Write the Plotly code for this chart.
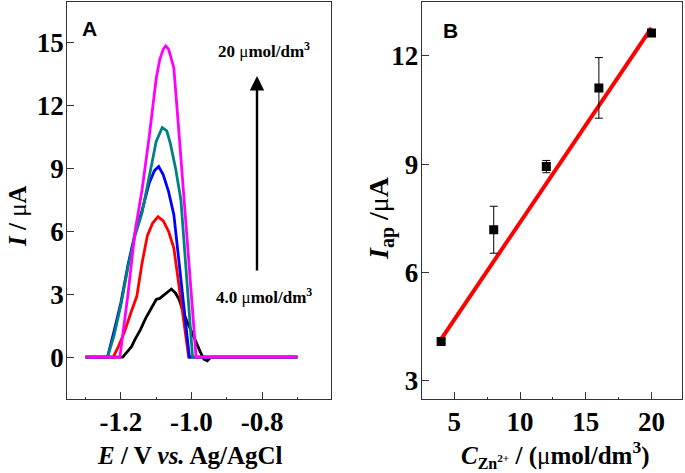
import plotly.graph_objects as go

W, H = 685, 473

# ---------------- Panel A data ----------------
E_black = [-1.30, -1.195, -1.18, -1.17, -1.16, -1.145, -1.13, -1.115, -1.10, -1.09, -1.075,
           -1.057, -1.045, -1.035, -1.02, -1.00, -0.985, -0.975, -0.965, -0.955, -0.945, -0.70]
I_black = [0.0, 0.0, 0.3, 0.5, 0.85, 1.3, 1.85, 2.3, 2.75, 2.8, 3.0,
           3.25, 3.05, 2.75, 2.0, 1.2, 0.6, 0.25, -0.1, -0.18, 0.0, 0.0]

E_red = [-1.30, -1.222, -1.21, -1.19, -1.17, -1.155, -1.14, -1.125, -1.11, -1.095,
         -1.08, -1.065, -1.05, -1.03, -1.008, -0.70]
I_red = [0.0, 0.0, 0.4, 1.2, 2.2, 2.9, 4.5, 5.8, 6.4, 6.7,
         6.5, 6.0, 5.2, 2.8, 0.0, 0.0]

E_blue = [-1.30, -1.238, -1.22, -1.20, -1.18, -1.16, -1.14, -1.12, -1.105, -1.093,
          -1.08, -1.065, -1.05, -1.035, -1.02, -1.006, -0.70]
I_blue = [0.0, 0.0, 1.2, 2.6, 4.4, 5.9, 7.0, 8.3, 8.9, 9.1,
          8.7, 7.9, 6.8, 4.5, 2.2, 0.0, 0.0]

E_teal = [-1.30, -1.238, -1.22, -1.20, -1.18, -1.16, -1.14, -1.12, -1.10, -1.083,
          -1.07, -1.06, -1.045, -1.03, -1.013, -0.997, -0.70]
I_teal = [0.0, 0.0, 1.0, 2.5, 4.3, 5.8, 6.9, 8.6, 10.3, 10.95,
          10.8, 10.2, 9.0, 7.5, 3.7, 0.0, 0.0]

E_mag = [-1.30, -1.203, -1.18, -1.16, -1.14, -1.12, -1.10, -1.09, -1.08, -1.073,
         -1.065, -1.05, -1.035, -1.02, -1.005, -0.987, -0.70]
I_mag = [0.0, 0.0, 3.0, 6.0, 8.0, 10.5, 13.3, 14.2, 14.7, 14.85,
         14.7, 13.8, 10.6, 7.5, 4.0, 0.0, 0.0]

# ---------------- Panel B data ----------------
conc = [4, 8, 12, 16, 20]
Iap = [4.08, 7.18, 8.93, 11.11, 12.63]
Iap_err = [0.05, 0.65, 0.17, 0.84, 0.05]
fit_x = [4, 20]
fit_y = [4.15, 12.77]

xA_ticks = [-1.2, -1.0, -0.8]
xA_text = ["-1.2", "-1.0", "-0.8"]
yA_ticks = [0, 3, 6, 9, 12, 15]
xB_ticks = [5, 10, 15, 20]
yB_ticks = [3, 6, 9, 12]


def px(x):
    return x / W


def py(y):
    return 1 - y / H


fig = go.Figure()
series = [(E_black, I_black, "black"), (E_red, I_red, "#ff0000"),
          (E_blue, I_blue, "#0000ff"), (E_teal, I_teal, "#008080"),
          (E_mag, I_mag, "#ff00ff")]
for ex, iy, c in series:
    fig.add_trace(go.Scatter(x=ex, y=iy, mode="lines", line=dict(color=c, width=2.8),
                             xaxis="x", yaxis="y", showlegend=False))

fig.add_trace(go.Scatter(x=fit_x, y=fit_y, mode="lines", line=dict(color="#ff0000", width=4),
                         xaxis="x2", yaxis="y2", showlegend=False))
fig.add_trace(go.Scatter(x=conc, y=Iap, mode="markers",
                         marker=dict(symbol="square", size=9, color="black"),
                         error_y=dict(type="data", array=Iap_err, color="black",
                                      thickness=1, width=4),
                         xaxis="x2", yaxis="y2", showlegend=False))

tickfont = dict(family="Liberation Serif", size=27, color="black", weight="bold")
axcommon = dict(showgrid=False, zeroline=False, showline=True, linecolor="#333333",
                linewidth=1.2, mirror=True, ticks="inside", ticklen=7, tickwidth=1,
                tickcolor="#333333", tickfont=tickfont, automargin=False)

fig.update_layout(
    width=W, height=H,
    margin=dict(l=0, r=0, t=0, b=0, autoexpand=False),
    paper_bgcolor="white", plot_bgcolor="white",
    xaxis=dict(domain=[px(67.3), px(330.5)], range=[-1.352, -0.606],
               tickvals=xA_ticks, ticktext=xA_text, ticklabelstandoff=-2,
               minor=dict(tickvals=[-1.3, -1.1, -0.9, -0.7], ticklen=2, ticks="inside",
                          tickcolor="#333333"),
               anchor="y", **axcommon),
    yaxis=dict(domain=[py(399), py(2)], range=[-2.0, 16.95], tickvals=yA_ticks,
               ticklabelstandoff=-3, anchor="x", **axcommon),
    xaxis2=dict(domain=[px(421.7), px(681.7)], range=[2.52, 22.3], tickvals=xB_ticks,
                ticklabelstandoff=-2,
                minor=dict(tickvals=[7.5, 12.5, 17.5], ticklen=2, ticks="inside",
                           tickcolor="#333333"),
                anchor="y2", **axcommon),
    yaxis2=dict(domain=[py(399), py(2)], range=[2.49, 13.49], tickvals=yB_ticks,
                ticklabelstandoff=-3, anchor="x2", **axcommon),
)

serif = "Liberation Serif"
ann = []


def add_text(x, y, text, size, family=serif, angle=0):
    ann.append(dict(x=px(x), y=py(y), xref="paper", yref="paper", showarrow=False,
                    xanchor="center", yanchor="middle", textangle=angle, text=text,
                    font=dict(family=family, size=size, color="black")))


# Panel A axis titles
add_text(190, 455, "<b><i>E</i> / V <i>vs.</i> Ag/AgCl</b>", 25)
add_text(17, 216, "<b><i>I</i> / <span style='font-weight:normal'>μ</span>A</b>", 25, angle=-90)
# Panel B axis titles
add_text(555, 454, "<b><i>C</i><sub><span style='font-size:16px'>Zn<sup>2+</sup></span></sub> / (<span style='font-weight:normal'>μ</span>mol/dm<sup>3</sup>)</b>", 25)
add_text(381, 218, "<b><i>I</i><sub><span style='font-size:20px'>ap</span></sub> /<span style='font-weight:normal'>μ</span>A</b>", 28, angle=-90)
# Panel letters
add_text(89, 28, "<b>A</b>", 21, family="Liberation Sans")
add_text(450, 30, "<b>B</b>", 21, family="Liberation Sans")
# Concentration labels
add_text(264, 50, "<b>20 <span style='font-weight:normal'>μ</span>mol/dm<sup>3</sup></b>", 17)
add_text(264, 296, "<b>4.0 <span style='font-weight:normal'>μ</span>mol/dm<sup>3</sup></b>", 17)
# Arrow
ann.append(dict(x=px(257), y=py(76), xref="paper", yref="paper", showarrow=True,
                ax=0, ay=196, arrowhead=2, arrowsize=1.2, arrowwidth=2.4,
                arrowcolor="black", text=""))
fig.update_layout(annotations=ann)

fig.write_html("out.html", config={"displayModeBar": False},
               post_script="document.body.style.margin='0';")
